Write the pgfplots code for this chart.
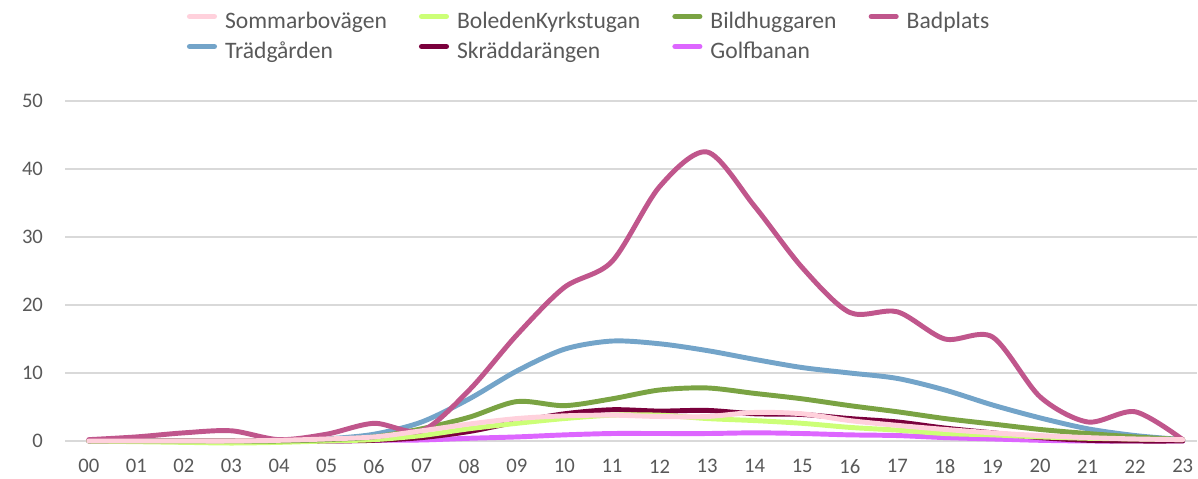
\documentclass[border=0pt]{standalone}
\usepackage{pgfplots}
\pgfplotsset{compat=1.18}
\usepackage{fontspec}
\setmainfont{Carlito}
\definecolor{cSom}{RGB}{255,209,220}
\definecolor{cBol}{RGB}{204,255,119}
\definecolor{cBil}{RGB}{122,163,67}
\definecolor{cBad}{RGB}{192,86,140}
\definecolor{cTra}{RGB}{115,164,201}
\definecolor{cSkr}{RGB}{122,0,60}
\definecolor{cGol}{RGB}{221,102,255}
\definecolor{txt}{RGB}{89,89,89}
\definecolor{grd}{RGB}{217,217,217}
\begin{document}
\begin{tikzpicture}
\path[use as bounding box] (0pt,0pt) rectangle (898.5pt,358.5pt);
\begin{axis}[
  at={(48.75pt,27.75pt)}, anchor=south west,
  scale only axis, width=849pt, height=255pt,
  xmin=-0.5, xmax=23.3, ymin=0, ymax=50,
  clip=false,
  axis line style={draw=none},
  xtick={0,...,23},
  xticklabels={00,01,02,03,04,05,06,07,08,09,10,11,12,13,14,15,16,17,18,19,20,21,22,23},
  ytick={0,10,20,30,40,50},
  major tick length=0pt,
  ymajorgrids, grid style={grd, line width=1.6pt},
  tick label style={font=\fontsize{15.5pt}{18pt}\selectfont, text=txt},
  /pgf/number format/assume math mode=true,
  xticklabel style={anchor=center, yshift=-19pt},
  yticklabel style={anchor=east, xshift=-13pt},
  legend columns=4,
  legend cell align=left,
  legend style={draw=none, fill=none, at={(0.1075,1.265)}, anchor=north west,
    font=\fontsize{17.7pt}{20pt}\selectfont, text=txt, inner sep=0pt,
    nodes={inner ysep=0pt, text height=13pt, text depth=4pt},
    /tikz/every odd column/.append style={column sep=4pt},
    /tikz/every even column/.append style={column sep=22pt},
    row sep=5.5pt},
  legend image code/.code={\draw[line width=3.8pt,#1] (0pt,4.5pt) -- (18.75pt,4.5pt);},
  every axis plot/.append style={smooth, tension=0.5, line width=3.7pt, line cap=round, line join=round},
]
\addlegendimage{cSom}
\addlegendimage{cBol}
\addlegendimage{cBil}
\addlegendimage{cBad}
\addlegendimage{cTra}
\addlegendimage{cSkr}
\addlegendimage{cGol}
\legend{Sommarbovägen,BoledenKyrkstugan,Bildhuggaren,Badplats,Trädgården,Skräddarängen,Golfbanan}
% Golfbanan
\addplot[cGol, forget plot] coordinates {(0,0)(1,0)(2,0)(3,0)(4,0)(5,0)(6,0.1)(7,0.15)(8,0.4)(9,0.6)(10,0.9)(11,1.1)(12,1.1)(13,1.1)(14,1.2)(15,1.1)(16,0.9)(17,0.8)(18,0.5)(19,0.3)(20,0.1)(21,0)(22,0)(23,0)};
% Trädgården
\addplot[cTra, forget plot] coordinates {(0,0)(1,0)(2,-0.1)(3,-0.2)(4,-0.1)(5,0.3)(6,1.0)(7,2.8)(8,6.2)(9,10.3)(10,13.5)(11,14.7)(12,14.3)(13,13.3)(14,12.0)(15,10.8)(16,10.0)(17,9.2)(18,7.5)(19,5.3)(20,3.4)(21,1.8)(22,0.8)(23,0.2)};
% Skräddarängen
\addplot[cSkr, forget plot] coordinates {(0,0)(1,0)(2,0)(3,0)(4,0)(5,0)(6,0.1)(7,0.5)(8,1.4)(9,2.8)(10,4.0)(11,4.6)(12,4.4)(13,4.5)(14,4.0)(15,3.9)(16,3.3)(17,2.8)(18,1.9)(19,1.2)(20,0.5)(21,0.1)(22,0)(23,0)};
% BoledenKyrkstugan
\addplot[cBol, forget plot] coordinates {(0,0)(1,-0.1)(2,-0.2)(3,-0.3)(4,-0.2)(5,0)(6,0.2)(7,0.8)(8,1.8)(9,2.6)(10,3.3)(11,3.8)(12,3.8)(13,3.3)(14,3.0)(15,2.6)(16,2.0)(17,1.6)(18,1.1)(19,0.9)(20,0.6)(21,0.4)(22,0.3)(23,0.2)};
% Bildhuggaren
\addplot[cBil, forget plot] coordinates {(0,0)(1,0)(2,0)(3,0)(4,0)(5,0.2)(6,0.6)(7,1.8)(8,3.5)(9,5.8)(10,5.2)(11,6.2)(12,7.5)(13,7.8)(14,7.0)(15,6.2)(16,5.2)(17,4.3)(18,3.3)(19,2.5)(20,1.7)(21,1.1)(22,0.6)(23,0.2)};
% Badplats
\addplot[cBad, forget plot] coordinates {(0,0.2)(1,0.6)(2,1.2)(3,1.5)(4,0.2)(5,1.0)(6,2.6)(7,1.5)(8,7.5)(9,15.6)(10,22.6)(11,26.4)(12,37.4)(13,42.5)(14,34.5)(15,25.5)(16,18.9)(17,19.0)(18,15.0)(19,15.3)(20,6.5)(21,2.8)(22,4.3)(23,0.2)};
% Sommarbovägen
\addplot[cSom, forget plot] coordinates {(0,0)(1,0)(2,0)(3,0)(4,0.1)(5,0.3)(6,0.6)(7,1.5)(8,2.5)(9,3.3)(10,3.7)(11,3.8)(12,3.6)(13,3.6)(14,4.2)(15,4.0)(16,3.0)(17,2.3)(18,1.7)(19,1.2)(20,0.8)(21,0.5)(22,0.3)(23,0.2)};
\end{axis}
\end{tikzpicture}
\end{document}
